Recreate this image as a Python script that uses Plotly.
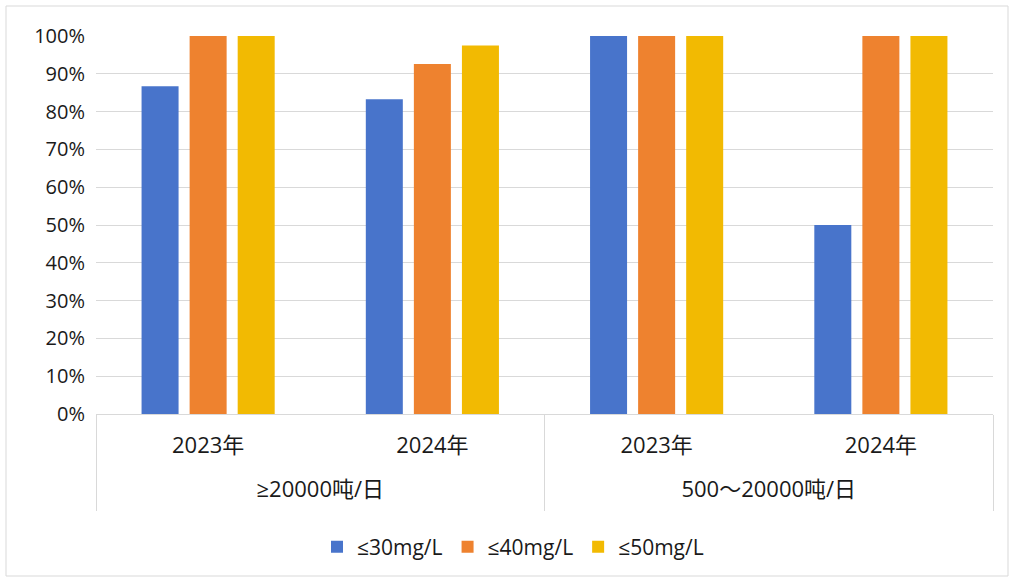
import plotly.graph_objects as go

groups = ["≥20000吨/日", "500～20000吨/日"]
years = ["2023年", "2024年", "2023年", "2024年"]
group_of_bar = [0, 0, 1, 1]
series_names = ["≤30mg/L", "≤40mg/L", "≤50mg/L"]
s30 = [86.7, 83.3, 100, 50]
s40 = [100, 92.6, 100, 100]
s50 = [100, 97.5, 100, 100]
colors = ["#4874CB", "#EE822F", "#F2BA02"]
yticks = [0, 10, 20, 30, 40, 50, 60, 70, 80, 90, 100]

W, H = 1013, 581
L, R, T, B = 96, 993, 36, 414
grid = "#D9D9D9"
font = "Open Sans, Noto Sans CJK SC, sans-serif"

# unique category keys, labelled by year
cats = [f"{groups[g]} {y}" for g, y in zip(group_of_bar, years)]
n_groups = len(groups)

fig = go.Figure()
for name, vals, c in zip(series_names, [s30, s40, s50], colors):
    fig.add_bar(x=cats, y=vals, name=name, marker_color=c, marker_line_width=0)

# empty carrier traces so the group-level axes are drawn
for ax in ["x2", "x3"]:
    fig.add_scatter(x=list(range(n_groups)), y=[None] * n_groups, xaxis=ax, yaxis="y",
                    mode="markers", showlegend=False, hoverinfo="skip")

fig.update_layout(
    width=W, height=H,
    margin=dict(l=L, r=W - R, t=T, b=H - B, pad=0),
    paper_bgcolor="white", plot_bgcolor="white",
    barmode="group", bargap=0.357, bargroupgap=0.23,
    font=dict(family=font, size=20, color="#1a1a1a"),
    showlegend=True,
    legend=dict(orientation="h", x=(513 - L) / (R - L), xanchor="center",
                y=(B - 547) / (B - T), yanchor="middle",
                font=dict(size=21), itemwidth=30, traceorder="normal"),
    xaxis=dict(type="category", categoryorder="array", categoryarray=cats,
               tickvals=cats, ticktext=years,
               showline=True, linecolor=grid, linewidth=1, showgrid=False,
               ticks="", ticklabelstandoff=12, tickfont=dict(size=22)),
    xaxis2=dict(overlaying="x", anchor="y", side="bottom", type="linear",
                range=[-0.5, n_groups - 0.5],
                tickvals=[i - 0.5 for i in range(n_groups + 1)],
                ticks="outside", ticklen=96, tickcolor=grid, tickwidth=1,
                showticklabels=False, showgrid=False, zeroline=False, showline=False),
    xaxis3=dict(overlaying="x", anchor="y", side="bottom", type="linear",
                range=[-0.5, n_groups - 0.5],
                tickvals=list(range(n_groups)), ticktext=groups,
                ticks="", ticklabelstandoff=60, tickfont=dict(size=22),
                showgrid=False, zeroline=False, showline=False),
    yaxis=dict(range=[0, 100], tickvals=yticks, ticktext=[f"{v}%" for v in yticks],
               showgrid=True, gridcolor=grid, gridwidth=1, zeroline=False,
               ticks="", ticklabelstandoff=10, tickfont=dict(size=20)),
    shapes=[dict(type="rect", xref="paper", yref="paper",
                 x0=(6 - L) / (R - L), x1=(1008 - L) / (R - L),
                 y0=(B - 576) / (B - T), y1=(B - 6) / (B - T),
                 line=dict(color=grid, width=1), layer="below")],
)
fig.write_html("out.html", config={"displayModeBar": False},
               post_script="document.body.style.margin='0';document.body.style.overflow='hidden';")
